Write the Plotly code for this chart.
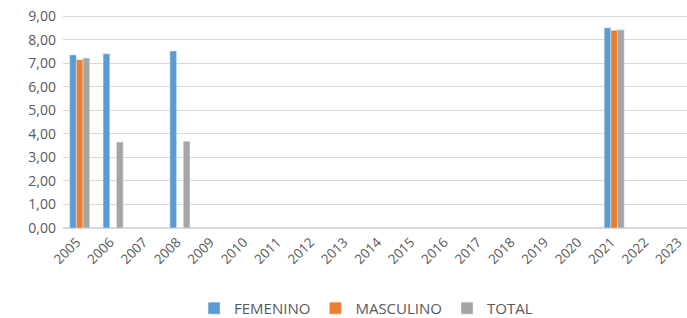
import plotly.graph_objects as go

years = [str(y) for y in range(2005, 2024)]
femenino = [7.35, 7.40, None, 7.52] + [None]*12 + [8.50, None, None]
masculino = [7.15, None, None, None] + [None]*12 + [8.40, None, None]
total = [7.22, 3.65, None, 3.68] + [None]*12 + [8.42, None, None]

fig = go.Figure()
fig.add_trace(go.Bar(x=years, y=femenino, name="FEMENINO", marker_color="#5B9BD5"))
fig.add_trace(go.Bar(x=years, y=masculino, name="MASCULINO", marker_color="#ED7D31"))
fig.add_trace(go.Bar(x=years, y=total, name="TOTAL", marker_color="#A5A5A5"))

fig.update_layout(
    width=687, height=318,
    margin=dict(l=63, r=0, t=15, b=90, autoexpand=False),
    paper_bgcolor="white", plot_bgcolor="white",
    separators=",.",
    bargap=0.4, bargroupgap=0,
    font=dict(family="Open Sans, Liberation Sans, sans-serif", color="#595959", size=14),
    legend=dict(orientation="h", x=0.21, xanchor="left", y=-0.3, yanchor="top",
                font=dict(size=15, color="#595959"), itemwidth=30),
    showlegend=True,
)
fig.update_yaxes(range=[0, 9.045], tickvals=[0, 1, 2, 3, 4, 5, 6, 7, 8, 9], tickformat=".2f",
                 showgrid=True, gridcolor="#D9D9D9",
                 gridwidth=1, zeroline=True, zerolinecolor="#D9D9D9", showline=False,
                 tickfont=dict(size=14, color="#595959"), ticks="", ticklabelstandoff=6,
                 ticklabeloverflow="allow", automargin=False)
fig.update_xaxes(type="category", tickangle=-45, showline=True, linecolor="#D9D9D9",
                 range=[-0.5, 18.18], automargin=False, ticklabelshift=-3,
                 ticklabeloverflow="allow",
                 tickfont=dict(size=13.5, color="#595959"), ticks="")

fig.write_html("out.html", config={"displayModeBar": False},
               post_script="document.body.style.margin='0';document.body.style.overflow='hidden';")
